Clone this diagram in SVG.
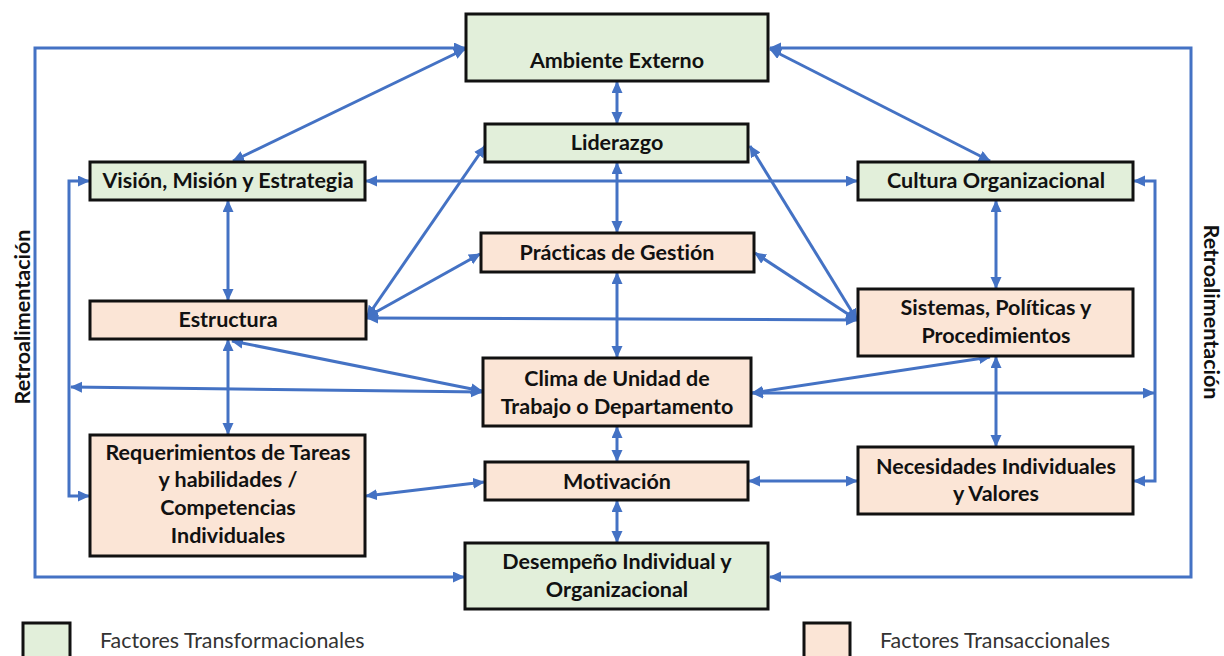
<svg xmlns="http://www.w3.org/2000/svg" width="1224" height="656" viewBox="0 0 1224 656">
  <style>
    .box { stroke: #111; stroke-width: 3; }
    .tf { fill: #e2efda; }
    .tr { fill: #fbe5d6; }
    .lbl { font-family: Lato, "Liberation Sans", sans-serif; font-weight: bold; font-size: 21.5px; fill: #111; text-anchor: middle; font-variant-ligatures: none; }
    .leg { font-family: Lato, "Liberation Sans", sans-serif; font-size: 21.4px; fill: #333; }
    .side { font-family: Lato, "Liberation Sans", sans-serif; font-weight: bold; font-size: 21.5px; fill: #111; text-anchor: middle; }
    #connectors path, #connectors line { stroke: #4472c4; stroke-width: 3; fill: none; marker-start: url(#ah); marker-end: url(#ah); }
  </style>
  <defs>
    <marker id="ah" markerUnits="userSpaceOnUse" markerWidth="12" markerHeight="12" refX="11" refY="5.5" orient="auto-start-reverse">
      <path d="M0,0 L12,5.5 L0,11 z" fill="#4472c4"/>
    </marker>
  </defs>
  <rect width="1224" height="656" fill="#fff"/>

  <g id="connectors">
    <!-- outer feedback loops -->
    <path d="M465,48 H35 V577 H464"/>
    <path d="M770,48 H1191 V577 H770"/>
    <!-- inner feedback loops -->
    <path d="M89,181 H69 V496 H89"/>
    <path d="M1134,181 H1155 V481 H1134"/>
    <!-- central spine -->
    <line x1="617" y1="82" x2="617" y2="123"/>
    <line x1="617" y1="163" x2="617" y2="232"/>
    <line x1="617" y1="273" x2="617" y2="357"/>
    <line x1="617" y1="427" x2="617" y2="461"/>
    <line x1="617" y1="501" x2="617" y2="542"/>
    <!-- left column -->
    <line x1="228" y1="201" x2="228" y2="300"/>
    <line x1="228" y1="340" x2="228" y2="434"/>
    <!-- right column -->
    <line x1="996" y1="201" x2="996" y2="288"/>
    <line x1="996" y1="357" x2="996" y2="446"/>
    <!-- top diagonals -->
    <line x1="465" y1="49" x2="233" y2="161"/>
    <line x1="770" y1="49" x2="990" y2="161"/>
    <line x1="366" y1="181" x2="857" y2="181"/>
    <!-- Estructura links -->
    <line x1="367" y1="317" x2="485" y2="146"/>
    <line x1="367" y1="317" x2="480" y2="254"/>
    <line x1="367" y1="318" x2="857" y2="320"/>
    <!-- Sistemas links -->
    <line x1="857" y1="320" x2="750" y2="146"/>
    <line x1="857" y1="320" x2="755" y2="253"/>
    <!-- Clima links -->
    <line x1="232" y1="341" x2="482" y2="391"/>
    <line x1="71" y1="387" x2="482" y2="392"/>
    <line x1="990" y1="357" x2="752" y2="393"/>
    <line x1="752" y1="393" x2="1154" y2="393"/>
    <!-- Motivación links -->
    <line x1="366" y1="496" x2="484" y2="482"/>
    <line x1="749" y1="481" x2="857" y2="481"/>
  </g>

  <g id="ambiente">
    <rect class="box tf" x="466" y="14" width="302" height="67"/>
    <text class="lbl" x="617" y="68">Ambiente Externo</text>
  </g>
  <g id="liderazgo">
    <rect class="box tf" x="485" y="124" width="263" height="38"/>
    <text class="lbl" x="617" y="150">Liderazgo</text>
  </g>
  <g id="vision">
    <rect class="box tf" x="90" y="162" width="275" height="38"/>
    <text class="lbl" x="228" y="188">Visión, Misión y Estrategia</text>
  </g>
  <g id="cultura">
    <rect class="box tf" x="858" y="162" width="275" height="38"/>
    <text class="lbl" x="996" y="188">Cultura Organizacional</text>
  </g>
  <g id="practicas">
    <rect class="box tr" x="481" y="233" width="273" height="39"/>
    <text class="lbl" x="617" y="260">Prácticas de Gestión</text>
  </g>
  <g id="estructura">
    <rect class="box tr" x="90" y="301" width="276" height="38"/>
    <text class="lbl" x="228" y="327">Estructura</text>
  </g>
  <g id="sistemas">
    <rect class="box tr" x="858" y="289" width="275" height="67"/>
    <text class="lbl" x="996" y="315">Sistemas, Políticas y</text>
    <text class="lbl" x="996" y="343">Procedimientos</text>
  </g>
  <g id="clima">
    <rect class="box tr" x="483" y="358" width="268" height="68"/>
    <text class="lbl" x="617" y="386">Clima de Unidad de</text>
    <text class="lbl" x="617" y="414">Trabajo o Departamento</text>
  </g>
  <g id="requerimientos">
    <rect class="box tr" x="90" y="435" width="275" height="121"/>
    <text class="lbl" x="228" y="460">Requerimientos de Tareas</text>
    <text class="lbl" x="228" y="487">y habilidades /</text>
    <text class="lbl" x="228" y="515">Competencias</text>
    <text class="lbl" x="228" y="543">Individuales</text>
  </g>
  <g id="motivacion">
    <rect class="box tr" x="485" y="462" width="263" height="38"/>
    <text class="lbl" x="617" y="489">Motivación</text>
  </g>
  <g id="necesidades">
    <rect class="box tr" x="858" y="447" width="275" height="67"/>
    <text class="lbl" x="996" y="474">Necesidades Individuales</text>
    <text class="lbl" x="996" y="501">y Valores</text>
  </g>
  <g id="desempeno">
    <rect class="box tf" x="465" y="543" width="303" height="66"/>
    <text class="lbl" x="617" y="569">Desempeño Individual y</text>
    <text class="lbl" x="617" y="597">Organizacional</text>
  </g>

  <g id="retro-left">
    <text class="side" transform="translate(30,317) rotate(-90)">Retroalimentación</text>
  </g>
  <g id="retro-right">
    <text class="side" transform="translate(1204,312) rotate(90)">Retroalimentación</text>
  </g>

  <g id="legend">
    <rect class="box tf" x="23" y="623" width="47" height="40"/>
    <text class="leg" x="100" y="648">Factores Transformacionales</text>
    <rect class="box tr" x="804" y="623" width="46" height="40"/>
    <text class="leg" x="880" y="648">Factores Transaccionales</text>
  </g>
</svg>
